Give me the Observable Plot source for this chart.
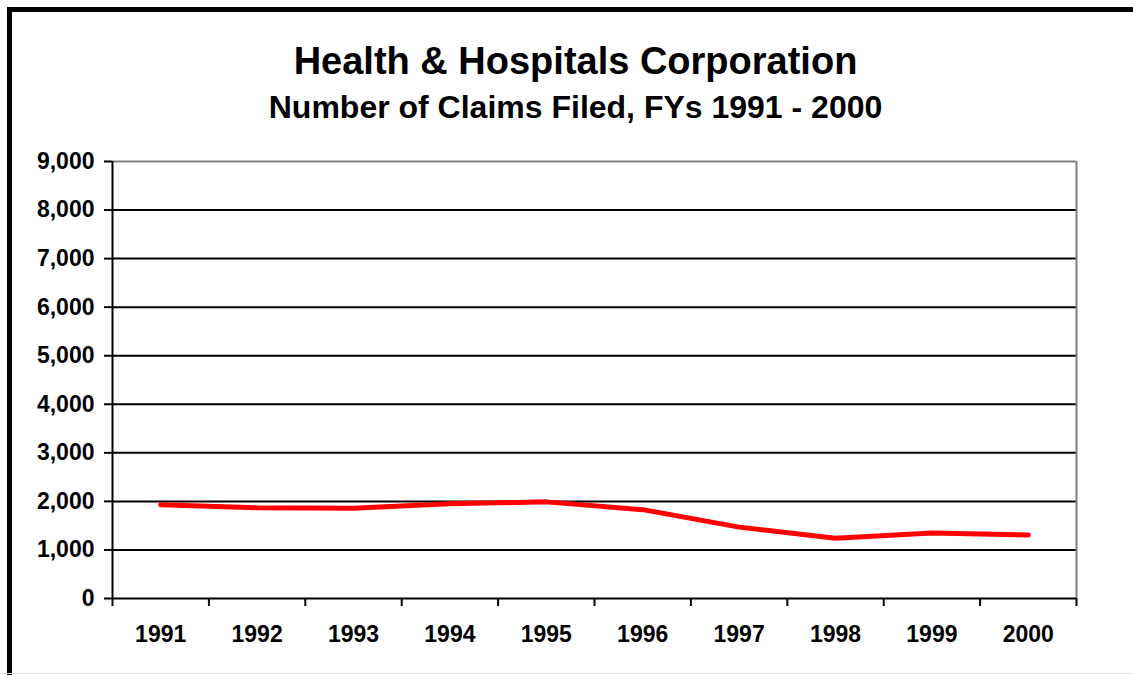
<!DOCTYPE html>
<html>
<head>
<meta charset="utf-8">
<script src="https://cdn.jsdelivr.net/npm/d3@7"></script>
<script src="https://cdn.jsdelivr.net/npm/@observablehq/plot@0.6"></script>
<style>
  body { margin: 0; background: #fff; }
  #wrap { position: relative; width: 1133px; height: 675px; overflow: hidden; background: #fff;
          font-family: "Liberation Sans", Arial, sans-serif; color: #000; }
  #frame { position: absolute; left: 7px; top: 7px; width: 1400px; height: 900px;
           border: 5px solid #000; box-sizing: border-box; }
  #bottomline { position: absolute; left: 0; top: 673px; width: 1133px; height: 1px; background: #e4e4e4; }
  .title { position: absolute; left: 0; width: 1151px; text-align: center; font-weight: bold; line-height: 1; white-space: nowrap; }
  #t1 { top: 42px; font-size: 38px; }
  #t2 { top: 91px; font-size: 32px; }
  #chart { position: absolute; left: 0; top: 140px; }
  #chart svg { font-weight: bold; }
</style>
</head>
<body>
<div id="wrap">
  <div id="frame"></div>
  <div id="bottomline"></div>
  <div class="title" id="t1">Health &amp; Hospitals Corporation</div>
  <div class="title" id="t2">Number of Claims Filed, FYs 1991 - 2000</div>
  <div id="chart"></div>
</div>
<script>
const years = [1991, 1992, 1993, 1994, 1995, 1996, 1997, 1998, 1999, 2000];
const claims = [1930, 1870, 1860, 1950, 1990, 1830, 1470, 1240, 1350, 1310];
const yTicks = [0, 1000, 2000, 3000, 4000, 5000, 6000, 7000, 8000, 9000];

const data = years.map((year, i) => ({year, claims: claims[i]}));
const xBounds = years.map(y => y - 0.5).concat([years[years.length - 1] + 0.5]);
const xMin = xBounds[0], xMax = xBounds[xBounds.length - 1];
const yMax = yTicks[yTicks.length - 1];

const chart = Plot.plot({
  width: 1133,
  height: 535,
  marginTop: 21,
  marginBottom: 77,
  marginLeft: 112,
  marginRight: 57,
  x: {type: "linear", domain: [xMin, xMax]},
  y: {domain: [0, yMax]},
  style: {fontFamily: "'Liberation Sans', Arial, sans-serif", fontWeight: "bold", fontSize: "23px", color: "#000", background: "transparent", overflow: "visible"},
  marks: [
    Plot.ruleY(yTicks.filter(d => d > 0 && d < yMax), {stroke: "#000", strokeWidth: 2}),
    Plot.ruleY([yMax], {stroke: "#808080", strokeWidth: 2}),
    Plot.ruleX([xMax], {stroke: "#808080", strokeWidth: 2}),
    Plot.ruleX([xMin], {stroke: "#000", strokeWidth: 2}),
    Plot.ruleY([0], {stroke: "#000", strokeWidth: 2}),
    Plot.axisY({ticks: yTicks, tickFormat: d3.format(","), tickSize: 8, tickPadding: 10, strokeWidth: 2, fontSize: 23, fontWeight: "bold", label: null}),
    Plot.axisX({ticks: xBounds, tickFormat: () => "", tickSize: 8, strokeWidth: 2, label: null}),
    Plot.axisX({ticks: years, tickFormat: d => String(d), tickSize: 0, tickPadding: 27, fontSize: 23, fontWeight: "bold", label: null}),
    Plot.line(data, {x: "year", y: "claims", stroke: "#ff0000", strokeWidth: 5, strokeLinecap: "round", strokeLinejoin: "round"})
  ]
});
document.getElementById("chart").appendChild(chart);
</script>
</body>
</html>
